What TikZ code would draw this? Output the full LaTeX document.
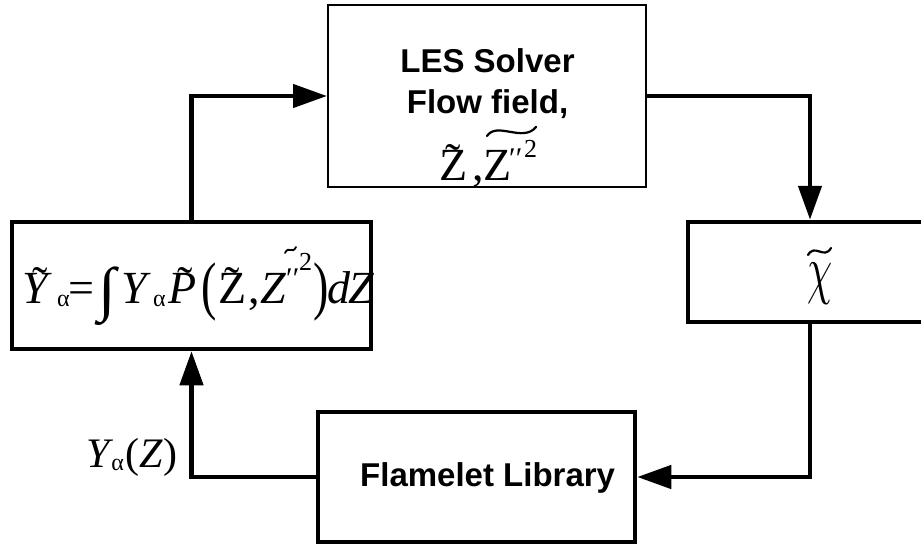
\documentclass[tikz,border=0pt]{standalone}
\usepackage{fontspec}
\setmainfont{Liberation Serif}
\newfontfamily\arialf{Liberation Sans}
\usepackage{graphicx}
\usetikzlibrary{arrows.meta}
% tilde over a glyph: #1 raise, #2 horizontal shift, #3 glyph
\newcommand\tld[3]{\leavevmode\setbox0\hbox{#3}\rlap{\hbox to \wd0{\hss\kern#2\raisebox{#1}{\char"02DC}\hss}}\box0}
% fixed-advance box
\newcommand\gb[2]{\hbox to #1{#2\hss}}
\newcommand\sbα{\raisebox{-3pt}{\fontsize{24}{24}\selectfont α}}
\newcommand\bigpar[1]{\raisebox{-4pt}{\scalebox{1}[1.4]{#1}}}
\newcommand\primes{{\fontsize{30}{30}\selectfont ′′}}
\tikzset{
  thinbox/.style={draw, line width=2pt, inner sep=0pt},
  thickbox/.style={draw, line width=4.5pt, inner sep=0pt},
  conn/.style={line width=4.5pt, -{Triangle[length=34pt,width=23pt]}},
  sanslbl/.style={inner sep=0pt, anchor=base, font=\arialf\bfseries\fontsize{33}{40}\selectfont},
  mathlbl/.style={inner sep=0pt, font=\fontsize{46}{50}\selectfont},
  tildeline/.style={line width=2.2pt, line cap=round}
}
\begin{document}
\begin{tikzpicture}[x=1pt,y=-1pt]
\useasboundingbox (0,0) rectangle (921,544);
\clip (0,0) rectangle (921,544);
\fill[white] (0,0) rectangle (921,544);
% boxes
\node[thinbox, minimum width=318pt, minimum height=182pt] (les) at (487,96) {};
\node[thickbox, minimum width=359pt, minimum height=127pt] (ybox) at (191.5,285.5) {};
\node[thickbox, minimum width=244pt, minimum height=100pt] (chi) at (810,272) {};
\node[thickbox, minimum width=317pt, minimum height=130pt] (flam) at (476.5,477) {};
% texts
\node[sanslbl] (les1) at (487.5,72) {LES Solver};
\node[sanslbl] (les2) at (487.5,113) {Flow field,};
\node[mathlbl, anchor=base west] (les3) at (439,180) {\gb{33pt}{\tld{5pt}{0pt}{Z}}\gb{11pt}{,}\gb{26pt}{Z}\gb{15pt}{\raisebox{12pt}{\primes}}{\fontsize{26}{26}\selectfont\raisebox{23pt}{2}}};
\draw[tildeline] (487,136) .. controls (497,121) and (523,143) .. (536,127);
\node[mathlbl, anchor=base west] (yform) at (22,303) {\gb{35pt}{\tld{5pt}{6pt}{\textit{Y}}}\gb{11pt}{\sbα}\gb{30pt}{=}\gb{23pt}{\raisebox{-6pt}{\scalebox{1.4}[1.3]{∫}}}\gb{32pt}{\textit{Y}}\gb{15pt}{\sbα}\gb{33pt}{\tld{5pt}{6pt}{\textit{P}}}\gb{17pt}{\bigpar{(}}\gb{30pt}{\tld{5pt}{0pt}{Z}}\gb{12pt}{,}\gb{26pt}{\textit{Z}}\gb{13pt}{\raisebox{15pt}{\primes}}\gb{14pt}{\fontsize{26}{26}\selectfont\raisebox{33pt}{2}}\gb{14pt}{\bigpar{)}}\gb{21pt}{\textit{d}}\textit{Z}};
\draw[tildeline, line width=1.8pt] (285,253) .. controls (289,245) and (292,255) .. (296,247);
\node[inner sep=0pt, anchor=base west, font=\fontsize{42}{46}\selectfont] (ylbl) at (86,467) {\textit{Y}\kern-2pt\raisebox{-3pt}{\fontsize{24}{24}\selectfont α}\kern2pt(\textit{Z})};
\node[inner sep=0pt, font=\fontsize{10}{12}\selectfont] (chitext) at (820,283.5) {\scalebox{4}[6.6]{$\chi$}};
\draw[tildeline] (808,255) .. controls (815,243) and (824,260) .. (831,248);
\node[sanslbl, anchor=base west] (flamtext) at (360,486) {Flamelet Library};
% connectors
\draw[conn] (ybox.north) |- (les.west);
\draw[conn] (les.east) -| (chi.north);
\draw[conn] (chi.south) |- (flam.east);
\draw[conn] (flam.west) -| (ybox.south);
\end{tikzpicture}
\end{document}
